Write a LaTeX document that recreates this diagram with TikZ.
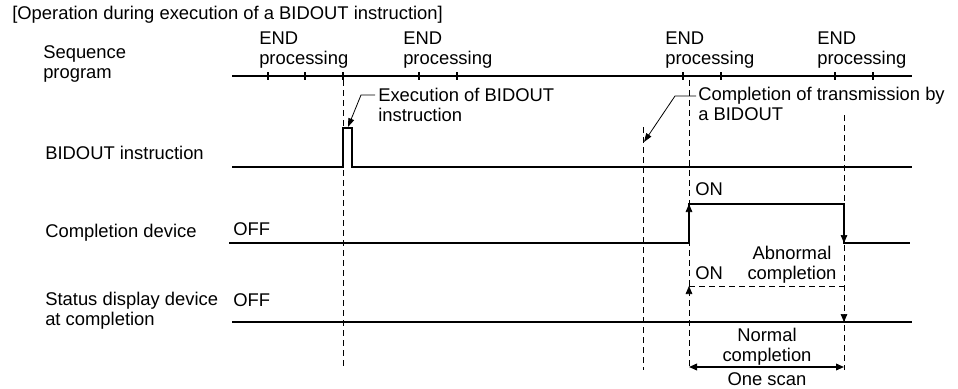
\documentclass[tikz,border=0pt]{standalone}
\usepackage{fontspec}
\setmainfont{Liberation Sans}
\usetikzlibrary{arrows.meta}
\begin{document}
\begin{tikzpicture}[x=0.75pt,y=-0.75pt,
  lbl/.style={inner sep=0pt, font=\fontsize{13.8}{15}\selectfont, align=left},
  sig/.style={line width=1.5pt, line join=miter},
  guide/.style={line width=0.75pt, dash pattern=on 4.5pt off 3pt},
  lead/.style={line width=0.6pt},
  tri/.style={-{Triangle[length=6pt,width=5pt]}},
  ltri/.style={-{Triangle[length=6.5pt,width=4.5pt]}},
  tickmark/.style={line width=1.1pt}]
\useasboundingbox (0,0) rectangle (958,389);

% title and row labels
\node[lbl, anchor=west] (title) at (12,15) {[Operation during execution of a BIDOUT instruction]};
\node[lbl, anchor=west] (seq) at (43,64) {Sequence\\program};
\node[lbl, anchor=west] (bid) at (45,153) {BIDOUT instruction};
\node[lbl, anchor=west] (cdev) at (45,233) {Completion device};
\node[lbl, anchor=west] (sdev) at (45,311) {Status display device\\at completion};

% END processing labels
\node[lbl, anchor=west] (e1) at (259,50) {END\\processing};
\node[lbl, anchor=west] (e2) at (403,50) {END\\processing};
\node[lbl, anchor=west] (e3) at (665,50) {END\\processing};
\node[lbl, anchor=west] (e4) at (817,50) {END\\processing};

% sequence program timeline
\coordinate (ta) at (232,76);
\coordinate (tb) at (912,76);
\draw[sig] (ta) -- (tb);
\foreach \x in {268,305,343,419,457,683,721,835,873}
  \draw[tickmark] (\x,72) -- (\x,80);

% dashed guide lines
\draw[guide] (343,80) -- (343,370);
\draw[guide] (643,127) -- (643,370);
\draw[guide] (689,80) -- (689,370);
\draw[guide] (844,115) -- (844,370);

% BIDOUT instruction signal
\coordinate (b0) at (232,167);
\coordinate (b1) at (343,167);
\coordinate (b2) at (343,128);
\coordinate (b3) at (352,128);
\coordinate (b4) at (352,167);
\coordinate (b5) at (912,167);
\draw[sig] (b0) -- (b1) -- (b2) -- (b3) -- (b4) -- (b5);

% completion device signal
\coordinate (c0) at (229,243);
\coordinate (c1) at (689,243);
\coordinate (c2) at (689,204);
\coordinate (c3) at (844,204);
\coordinate (c4) at (844,243);
\coordinate (c5) at (910,243);
\draw[sig] (c0) -- (c1) -- (c2) -- (c3) -- (c4) -- (c5);
\coordinate (c2a) at (689,212);
\coordinate (c4a) at (844,235);
\draw[tri, line width=0.5pt] (c2a) -- (c2);
\draw[tri, line width=0.5pt] (c4a) -- (c4);
\node[lbl, anchor=west] (off1) at (233,229) {OFF};
\node[lbl, anchor=west] (on1) at (695,189) {ON};

% status display device signal
\coordinate (s0) at (232,322);
\coordinate (s1) at (912,322);
\draw[sig] (s0) -- (s1);
\node[lbl, anchor=west] (off2) at (233,300) {OFF};
\coordinate (a0) at (689,286);
\coordinate (a1) at (844,286);
\draw[guide] (a0) -- (a1);
\coordinate (a0b) at (689,294);
\coordinate (s2) at (844,322);
\coordinate (s2a) at (844,314);
\draw[tri, line width=0.5pt] (a0b) -- (a0);
\draw[tri, line width=0.5pt] (s2a) -- (s2);
\node[lbl, anchor=west] (on2) at (695,273) {ON};
\node[lbl, align=center] (abn) at (792,265) {Abnormal\\completion};

% one scan
\node[lbl, align=center] (norm) at (767,347) {Normal\\completion};
\coordinate (o0) at (689,367);
\coordinate (o1) at (844,367);
\draw[line width=1.1pt, {Triangle[length=6pt,width=5pt]}-{Triangle[length=6pt,width=5pt]}] (o0) -- (o1);
\node[lbl] (scan) at (767,379) {One scan};

% leaders
\node[lbl, anchor=west] (exec) at (378,105) {Execution of BIDOUT\\instruction};
\coordinate (x1) at (375,95);
\coordinate (x2) at (361,95);
\coordinate (x3) at (348,127);
\draw[lead, ltri] (x1) -- (x2) -- (x3);
\node[lbl, anchor=west] (comp) at (698,104) {Completion of transmission by\\a BIDOUT};
\coordinate (y1) at (696,96);
\coordinate (y2) at (675,96);
\coordinate (y3) at (644,142);
\draw[lead, ltri] (y1) -- (y2) -- (y3);
\end{tikzpicture}
\end{document}
